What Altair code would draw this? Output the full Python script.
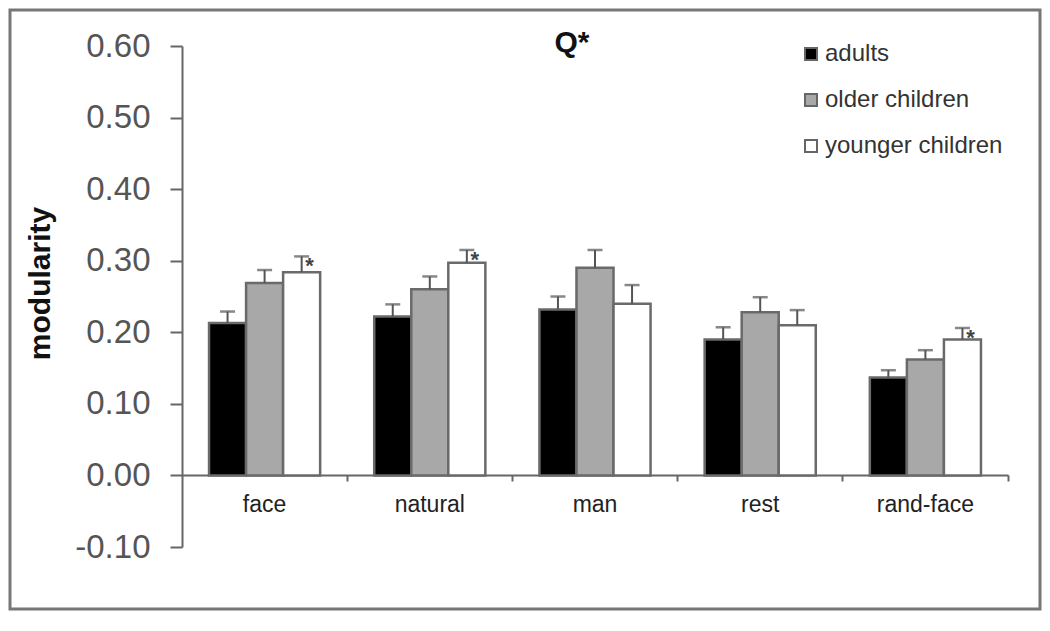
import altair as alt
import pandas as pd

categories = ["face", "natural", "man", "rest", "rand-face"]
groups = ["adults", "older children", "younger children"]
adults = [0.213, 0.222, 0.232, 0.190, 0.137]
older = [0.269, 0.260, 0.290, 0.228, 0.162]
younger = [0.284, 0.297, 0.240, 0.210, 0.190]
adults_err = [0.016, 0.017, 0.018, 0.017, 0.010]
older_err = [0.018, 0.018, 0.025, 0.021, 0.013]
younger_err = [0.022, 0.018, 0.026, 0.021, 0.016]
younger_star = [1, 1, 0, 0, 1]
y_ticks = [-0.1, 0.0, 0.1, 0.2, 0.3, 0.4, 0.5, 0.6]
colors = ["#000000", "#a8a8a8", "#ffffff"]
chart_title = "Q*"

rows = []
for i, c in enumerate(categories):
    for g, vals, errs in [(groups[0], adults, adults_err), (groups[1], older, older_err), (groups[2], younger, younger_err)]:
        rows.append({"cat": c, "group": g, "val": vals[i], "top": vals[i] + errs[i],
                     "star": younger_star[i] if g == groups[2] else 0})
df = pd.DataFrame(rows)

FONT = "Liberation Sans"

x = alt.X("cat:N", sort=categories, scale=alt.Scale(paddingInner=0, paddingOuter=0),
          axis=alt.Axis(title=None, labelAngle=0, offset=-72, domainColor="#666", domainWidth=2,
                        tickSize=6, tickColor="#666", tickWidth=2, bandPosition=1,
                        labelFontSize=23, labelPadding=12, labelColor="#222", labelFont=FONT))
xo = alt.XOffset("group:N", sort=groups, scale=alt.Scale(domain=groups, paddingInner=0, paddingOuter=0.73))
y = alt.Y("val:Q", scale=alt.Scale(domain=[-0.1, 0.6], nice=False, zero=False),
          axis=alt.Axis(values=y_ticks,
                        labelExpr="datum.value < 0 ? '-' + format(-datum.value, '.2f') : format(datum.value, '.2f')",
                        tickSize=12, labelPadding=20, labelFontSize=33,
                        labelColor="#555", labelFont=FONT, domainColor="#666", domainWidth=2,
                        tickColor="#666", tickWidth=2, grid=False, title="modularity",
                        titleFontSize=30, titleFontWeight="bold", titleFont=FONT, titleColor="#111",
                        titleX=-142, titleY=237, titleAlign="center", titleBaseline="middle"))

base = alt.Chart(df)
bars = base.mark_bar(stroke="#6a6a6a", strokeWidth=2.5).encode(
    x=x, xOffset=xo, y=y,
    color=alt.Color("group:N", sort=groups, scale=alt.Scale(domain=groups, range=colors),
                    legend=alt.Legend(title=None, orient="none", legendX=617, legendY=-4,
                                      symbolType="square", symbolSize=144, symbolStrokeColor="#666",
                                      symbolStrokeWidth=2, labelFontSize=24, labelFont=FONT,
                                      labelColor="#333", rowPadding=22, labelOffset=2, labelLimit=400)),
)
rules = base.mark_rule(color="#555", strokeWidth=2).encode(x=x, xOffset=xo, y="val:Q", y2="top:Q")
caps = base.mark_tick(color="#555", thickness=2.5, size=15).encode(x=x, xOffset=xo, y="top:Q")
stars = base.transform_filter("datum.star == 1").mark_text(
    text="*", fontSize=22, font=FONT, fontWeight="bold", color="#444", dx=8, dy=10
).encode(x=x, xOffset=xo, y="top:Q")

title = alt.Chart(pd.DataFrame({"t": [chart_title]})).mark_text(
    fontSize=30, fontWeight="bold", font=FONT, color="#111", align="center", baseline="middle"
).encode(text="t:N", x=alt.value(390), y=alt.value(-3))

frame = alt.Chart(pd.DataFrame({"a": [0]})).mark_rect(fill=None, stroke="#777", strokeWidth=3).encode(
    x=alt.value(-172), x2=alt.value(858), y=alt.value(-36), y2=alt.value(563))

chart = alt.layer(bars, rules, caps, stars, title, frame).properties(
    width=826, height=501,
    autosize=alt.AutoSizeParams(type="none"),
    padding={"left": 174, "top": 38, "right": 34, "bottom": 64},
    background="white",
).configure_view(stroke=None)

chart.save("out.html", embed_options={"renderer": "svg", "actions": False})
